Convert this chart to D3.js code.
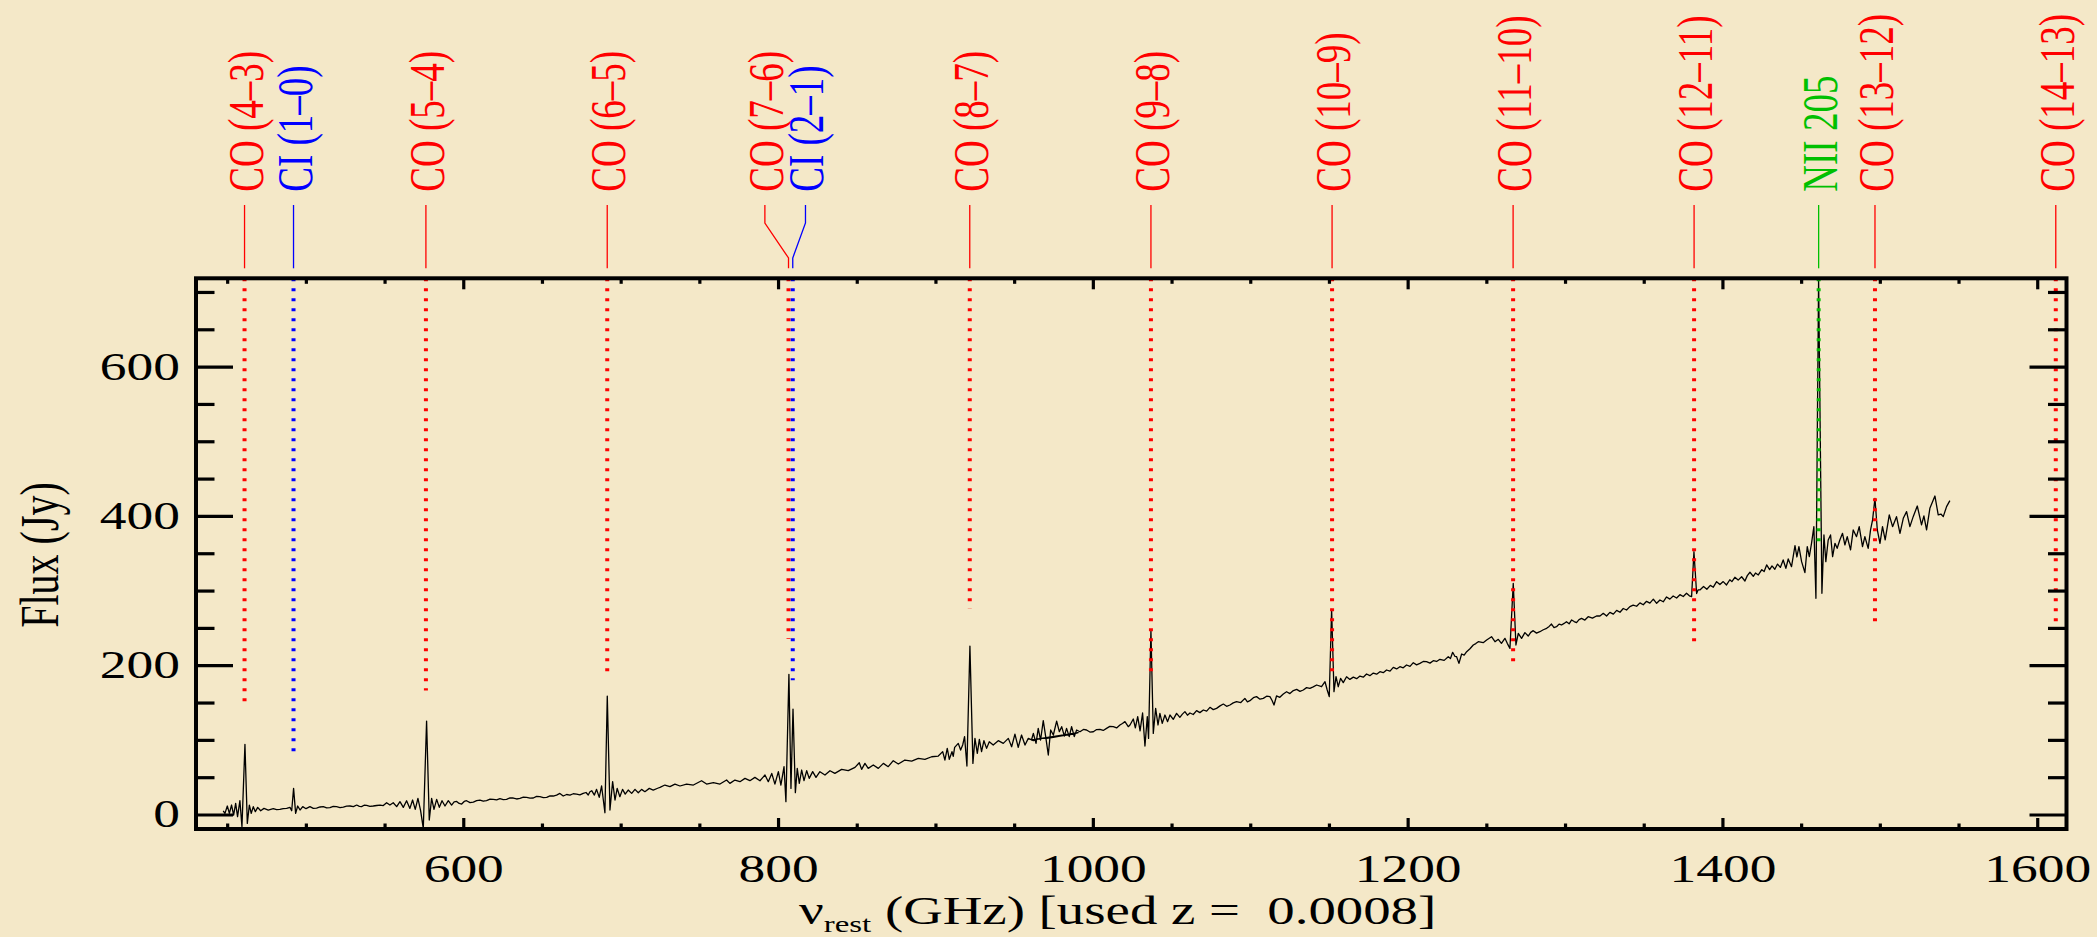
<!DOCTYPE html>
<html>
<head>
<meta charset="utf-8">
<script src="https://cdn.jsdelivr.net/npm/d3@7"></script>
<style>
  html, body { margin: 0; padding: 0; background: #f4e8c8; }
  svg { display: block; }
  text { font-family: "Liberation Serif", "Times New Roman", serif; }
</style>
</head>
<body>
<svg id="chart" width="2097" height="937"></svg>
<script>

// SLW detector array: rest frequency (GHz) and flux (Jy)
var slwFreq = [447.5,448.6,450.1,451.4,452.8,454.1,455.4,456.6,458.1,459.4,461.3,462.8,464.1,465.3,466.6,467.9,469.4,471.3,473.4,476.1,479.3,481.4,483.5,485.6,487.8,489.9,491.0,492.2,493.5,494.8,496.3,498.0,500.1,502.6,504.7,506.8,509.0,511.1,513.2,515.3,517.4,519.5,521.7,523.8,525.9,528.0,530.2,532.3,534.0,535.4,537.0,538.6,540.7,542.8,545.0,547.1,549.2,551.3,553.4,555.5,557.7,559.8,561.9,564.0,566.1,567.8,569.5,571.2,572.9,574.6,576.7,578.4,579.9,581.4,583.1,584.8,586.5,588.4,590.5,592.6,594.2,595.8,597.4,599.0,600.6,602.1,604.3,606.4,608.5,610.6,612.7,614.8,617.0,619.1,621.2,623.3,625.4,627.5,629.7,631.8,633.9,636.0,638.2,640.3,642.4,644.5,646.6,648.7,650.9,653.0,655.1,657.2,659.3,661.4,663.5,665.7,667.8,669.9,672.0,674.1,676.2,678.0,679.4,680.5,681.6,683.3,684.7,686.4,687.9,689.0,690.0,691.5,693.2,694.9,696.4,697.8,699.5,701.2,702.9,704.8,707.0,709.1,711.2,713.3,715.4,718.2,720.7,723.9,725.0,728.1,731.3,734.5,737.7,741.9,746.2,751.4,754.6,758.9,763.1,767.3,769.4,772.6,775.8,779.0,782.1,785.3,788.5,791.7,793.8,796.0,798.0,800.2,801.8,803.8,805.0,806.9,808.2,809.5,811.0,812.2,813.5,815.0,816.5,818.2,819.8,822.0,824.1,826.6,829.8,833.0,836.1,840.4,844.6,848.9,851.6,853.1,855.2,857.3,860.5,863.7,866.9,870.0,873.2,876.4,880.6,884.9,889.1,893.3,897.6,901.8,904.6,906.0,907.5,908.8,910.5,911.3,912.2,914.5,916.0,917.3,918.5,920.0,921.9,923.8,925.1,926.6,927.9,929.3,930.8,932.5,934.2,936.7,939.9,943.1,946.3,948.4,950.5,952.6,954.7,956.9,959.0,962.2,966.4,970.6,974.9,979.1,983.3,987.6,990.7];
var slwFlux = [5.0,1.5,11.4,1.5,12.7,-0.7,14.9,-2.9,18.5,-16.3,94.0,-11.9,12.7,1.5,10.5,3.8,9.6,5.1,8.2,6.0,7.8,6.5,6.9,8.0,8.2,9.6,5.1,35.0,1.5,11.4,6.0,10.5,7.8,10.5,8.3,8.7,10.1,10.5,9.0,9.1,10.8,10.5,9.3,10.0,11.2,11.4,10.6,12.7,11.0,10.5,12.4,12.3,11.0,11.4,12.1,12.7,12.0,15.8,12.7,15.8,10.5,17.2,9.6,18.5,8.2,19.4,6.9,21.6,5.1,-18.6,125.2,-7.4,21.6,6.9,20.3,9.6,18.5,11.4,18.5,12.7,17.0,17.6,14.8,14.0,17.5,18.5,16.0,16.7,18.6,19.4,17.8,18.5,20.5,20.3,19.6,21.2,20.0,20.3,22.3,22.1,20.8,21.6,23.2,23.0,21.9,22.1,24.2,23.9,22.6,23.0,25.0,24.8,26.0,28.3,24.8,26.8,26.1,27.8,27.4,26.2,28.3,29.5,26.1,30.5,31.9,26.1,33.7,23.0,38.2,19.4,2.4,158.7,6.0,44.0,19.4,35.0,23.9,33.7,27.4,32.8,28.3,33.7,29.2,33.7,30.6,35.0,32.8,35.5,36.4,39.5,37.3,40.8,38.2,40.8,39.5,45.3,40.8,42.6,40.8,46.2,41.7,46.2,44.0,48.4,45.3,49.8,45.3,52.9,44.0,55.1,40.8,57.4,39.5,64.1,17.2,187.8,35.0,141.3,29.2,61.8,41.7,59.6,45.3,58.7,48.4,57.4,49.8,57.4,52.9,58.7,55.1,60.5,58.7,63.2,69.4,60.5,68.5,61.8,66.3,61.8,68.5,64.1,72.1,67.6,73.0,71.6,75.2,73.9,77.4,78.3,84.2,73.0,88.6,73.9,84.2,78.0,90.0,95.3,86.4,93.1,104.3,65.0,225.7,68.5,102.0,81.9,100.7,84.2,98.9,88.6,97.5,93.1,98.9,95.3,102.0,90.8,107.8,90.0,106.5,93.1,102.0,98.9,102.0,102.0,103.4,105.1,106.5,107.8,109.6];

// SSW detector array: rest frequency (GHz) and flux (Jy)
var sswFreq = [961.0,962.2,963.9,965.3,966.8,968.5,970.2,971.7,973.2,974.9,977.0,978.7,980.2,981.9,983.3,985.0,986.5,988.2,989.7,991.8,994.0,996.0,998.1,1000.3,1002.4,1004.5,1006.6,1008.7,1010.8,1013.0,1015.1,1017.2,1018.8,1020.4,1022.5,1023.6,1025.7,1027.0,1028.5,1030.0,1031.6,1033.1,1034.6,1035.4,1036.9,1038.4,1039.9,1041.4,1042.6,1044.1,1045.8,1047.5,1049.0,1051.1,1053.2,1055.3,1056.9,1058.5,1060.1,1061.7,1063.8,1065.9,1068.0,1070.2,1072.3,1074.4,1076.5,1078.6,1080.8,1082.9,1085.0,1087.1,1089.2,1091.3,1094.0,1096.6,1098.2,1099.8,1102.0,1104.0,1106.2,1108.3,1110.4,1112.5,1113.8,1115.1,1116.7,1118.8,1121.0,1123.1,1125.2,1127.4,1129.5,1131.6,1133.7,1135.8,1137.9,1140.0,1142.2,1145.3,1147.5,1148.9,1150.2,1151.7,1153.2,1154.5,1155.9,1157.4,1159.1,1161.2,1163.3,1165.5,1167.6,1169.7,1171.8,1173.9,1176.0,1178.2,1180.3,1182.4,1184.5,1186.6,1188.8,1190.9,1193.0,1195.1,1197.2,1199.3,1201.5,1203.6,1205.7,1207.8,1209.9,1212.0,1214.2,1216.3,1218.4,1220.5,1223.2,1225.8,1227.2,1228.6,1230.0,1231.1,1232.6,1234.3,1235.9,1237.5,1239.6,1241.7,1243.3,1244.9,1248.0,1250.2,1253.3,1255.5,1257.6,1259.6,1261.8,1263.3,1265.0,1267.1,1268.8,1270.3,1272.4,1274.5,1276.6,1278.2,1279.8,1281.9,1284.0,1286.2,1288.3,1289.9,1291.4,1293.0,1294.6,1296.2,1297.8,1299.4,1300.9,1302.6,1304.2,1305.8,1307.3,1308.9,1310.5,1312.6,1314.7,1317.4,1320.0,1322.2,1324.3,1326.4,1328.5,1330.7,1332.8,1334.9,1337.0,1339.1,1341.2,1343.3,1345.5,1347.6,1349.7,1351.8,1353.9,1356.1,1358.2,1360.3,1362.4,1364.5,1366.6,1368.7,1370.9,1373.0,1375.1,1377.2,1379.0,1380.4,1381.9,1383.6,1384.6,1385.7,1388.0,1390.1,1392.3,1394.2,1396.3,1398.4,1400.5,1402.6,1404.7,1406.0,1407.9,1410.0,1412.2,1414.3,1415.8,1417.5,1419.6,1421.0,1422.8,1425.0,1426.5,1428.1,1430.0,1431.5,1433.3,1435.0,1436.8,1438.6,1440.3,1441.8,1443.9,1446.1,1447.3,1448.6,1450.3,1452.4,1453.9,1455.2,1456.6,1458.1,1459.4,1461.1,1463.2,1464.5,1465.7,1467.2,1468.7,1470.0,1471.5,1472.9,1474.6,1476.3,1477.8,1479.3,1481.4,1483.1,1485.2,1486.9,1489.0,1490.5,1492.6,1494.1,1495.4,1496.9,1498.4,1500.1,1501.7,1503.4,1506.0,1508.1,1510.6,1512.8,1514.9,1517.0,1519.1,1521.2,1523.8,1526.5,1528.0,1529.7,1531.8,1535.0,1537.1,1538.8,1540.3,1542.4,1544.5];
var sswFlux = [99.8,108.7,95.3,115.4,99.8,125.7,102.0,79.7,113.2,106.5,125.2,111.0,117.7,105.1,115.4,104.3,117.7,104.3,113.2,110.9,114.0,113.2,110.5,110.9,113.8,114.1,112.6,115.4,118.0,117.7,116.0,119.9,122.0,124.4,117.7,119.9,128.0,116.0,131.0,112.0,136.0,91.8,131.1,102.0,247.2,108.7,142.2,119.9,135.5,122.1,133.3,124.4,133.3,127.5,135.5,130.2,134.5,137.8,133.0,136.0,134.0,139.1,136.5,140.0,138.5,143.6,140.5,142.2,145.5,148.0,145.0,146.7,149.5,151.2,150.0,155.6,151.0,152.5,156.5,157.9,154.5,155.6,158.5,157.9,153.0,146.7,158.8,157.0,161.5,164.5,162.0,166.0,167.7,165.0,166.8,170.0,169.0,171.0,173.5,171.2,177.9,166.8,157.9,274.8,164.5,184.6,171.2,182.4,176.6,184.6,181.0,184.0,182.0,185.5,184.0,188.2,186.0,189.5,188.0,191.3,190.0,193.6,192.0,197.1,195.0,198.0,196.5,200.3,198.5,203.4,200.5,202.5,205.0,204.7,202.8,206.1,205.0,207.9,206.5,211.4,209.0,217.3,212.0,211.4,202.5,215.0,213.5,218.1,222.0,227.1,229.0,231.5,230.2,233.8,238.2,231.5,234.7,229.3,236.0,229.3,222.6,309.7,227.1,242.7,236.0,243.6,239.1,244.0,246.3,243.0,244.9,247.5,249.4,252.0,255.2,250.5,251.6,255.0,253.9,256.0,258.3,255.5,260.6,258.5,257.0,261.0,262.8,260.5,265.0,263.0,265.9,265.9,269.5,266.0,270.8,268.5,273.5,271.0,276.0,274.0,278.5,280.6,279.0,283.5,281.0,285.6,283.2,288.5,282.9,287.4,285.0,291.4,288.5,292.8,290.0,294.5,292.0,296.5,293.0,291.8,352.0,296.0,301.0,300.8,305.5,301.8,307.0,304.5,311.9,308.0,312.0,307.5,314.5,312.0,317.8,314.0,318.5,312.8,320.0,324.5,319.0,323.5,320.9,328.0,325.5,334.3,328.0,333.0,328.5,335.5,331.0,341.0,329.8,342.3,332.0,360.2,345.0,358.8,338.7,324.0,358.8,345.4,363.3,385.6,289.6,718.0,296.3,374.5,338.7,367.8,374.5,345.4,363.3,356.6,367.8,376.7,361.1,372.2,354.4,381.2,372.2,385.6,358.8,372.2,356.6,381.2,394.6,423.6,381.2,363.3,385.6,367.8,401.3,385.6,399.0,376.7,396.8,405.7,385.6,399.0,413.3,387.9,400.0,381.2,410.2,426.7,401.3,402.5,399.0,412.4,420.5];

// line identifications
var lineNames = ["CO (4\u20133)", "CI (1\u20130)", "CO (5\u20134)", "CO (6\u20135)", "CO (7\u20136)", "CI (2\u20131)", "CO (8\u20137)", "CO (9\u20138)", "CO (10\u20139)", "CO (11\u201310)", "CO (12\u201311)", "NII 205", "CO (13\u201312)", "CO (14\u201313)"];
var lineSpecies = ["CO", "CI", "CO", "CO", "CO", "CI", "CO", "CO", "CO", "CO", "CO", "NII", "CO", "CO"];
var lineFreqs = [461.04, 492.16, 576.27, 691.47, 806.65, 809.34, 921.80, 1036.91, 1151.99, 1267.01, 1381.99, 1461.13, 1496.92, 1611.79];
// lower end (Jy) of each dotted marker
var lineMarkEnd = [151, 80, 166, 188, 235, 180, 276, 186, 189, 204, 225, 359, 250, 258];

// axis ticks
var xMajor = [600, 800, 1000, 1200, 1400, 1600];
var xMinor = [450, 500, 550, 650, 700, 750, 850, 900, 950, 1050, 1100, 1150, 1250, 1300, 1350, 1450, 1500, 1550];
var yMajor = [0, 200, 400, 600];
var yMinor = [50, 100, 150, 250, 300, 350, 450, 500, 550, 650, 700];

var speciesColor = {CO: "#ff0000", CI: "#0000ff", NII: "#00c000"};

// plot box, IDL style
var box = {left: 196, right: 2066.5, top: 278.3, bottom: 829};
var stretch = 1.37;   // text is wider than the font's natural shape

var x = d3.scaleLinear().domain([430.2, 1618.6]).range([box.left, box.right]);
var y = d3.scaleLinear().domain([-19.4, 718.3]).range([box.bottom, box.top]);

var svg = d3.select("#chart");

svg.append("rect")
  .attr("width", 2097).attr("height", 937)
  .attr("fill", "#f4e8c8");

svg.append("clipPath").attr("id", "plotclip")
  .append("rect")
  .attr("x", box.left).attr("y", box.top)
  .attr("width", box.right - box.left).attr("height", box.bottom - box.top);

// spectrum: SLW then SSW, drawn as one trace
var spec = d3.zip(slwFreq, slwFlux).concat(d3.zip(sswFreq, sswFlux));

var line = d3.line()
  .x(function(d) { return x(d[0]); })
  .y(function(d) { return y(d[1]); });

svg.append("path")
  .datum(spec)
  .attr("d", line)
  .attr("clip-path", "url(#plotclip)")
  .attr("fill", "none")
  .attr("stroke", "#000")
  .attr("stroke-width", 1.3)
  .attr("stroke-linejoin", "round");

// dotted markers inside the plot
lineFreqs.forEach(function(f, i) {
  svg.append("path")
    .datum([[f, y.domain()[1]], [f, lineMarkEnd[i]]])
    .attr("d", line)
    .attr("fill", "none")
    .attr("stroke", speciesColor[lineSpecies[i]])
    .attr("stroke-width", 4)
    .attr("stroke-dasharray", "3 7");
});

// label positions, spread labels that would collide
var labelX = lineFreqs.map(function(f) { return x(f); });
for (var i = 1; i < labelX.length; i++) {
  var gap = labelX[i] - labelX[i - 1];
  if (gap < 40) {
    var need = 40.6 - gap;
    labelX[i - 1] -= need * 0.65;
    labelX[i] += need * 0.35;
  }
}

lineFreqs.forEach(function(f, i) {
  var col = speciesColor[lineSpecies[i]];
  var lx = labelX[i], px = x(f);
  var pts = Math.abs(lx - px) > 0.5
    ? [[lx, 205], [lx, 223], [px, 258], [px, 268.3]]
    : [[px, 205], [px, 268.3]];

  svg.append("path")
    .attr("d", d3.line()(pts))
    .attr("fill", "none")
    .attr("stroke", col)
    .attr("stroke-width", 1.3);

  svg.append("text")
    .attr("transform", "translate(" + (lx + 18) + ",191.7) scale(" + stretch + ",1) rotate(-90)")
    .attr("font-size", 37)
    .attr("fill", col)
    .text(lineNames[i]);
});

// axes: major and minor ticks on all four sides
function styleAxis(g, width) {
  g.select(".domain").remove();
  g.selectAll(".tick line").attr("stroke", "#000").attr("stroke-width", width);
}

var bottom = svg.append("g").attr("transform", "translate(0," + box.bottom + ")")
  .call(d3.axisBottom(x).tickValues(xMajor).tickSize(-11).tickFormat(d3.format("d")));
styleAxis(bottom, 3.2);
bottom.selectAll(".tick text")
  .attr("y", 53).attr("dy", 0)
  .attr("transform", "scale(" + stretch + ",1)")
  .attr("font-size", 39).attr("font-family", null).attr("fill", "#000");

svg.append("g").attr("transform", "translate(0," + box.bottom + ")")
  .call(d3.axisBottom(x).tickValues(xMinor).tickSize(-5.5).tickFormat(""))
  .call(styleAxis, 3.2);
svg.append("g").attr("transform", "translate(0," + box.top + ")")
  .call(d3.axisTop(x).tickValues(xMajor).tickSize(-11).tickFormat(""))
  .call(styleAxis, 3.2);
svg.append("g").attr("transform", "translate(0," + box.top + ")")
  .call(d3.axisTop(x).tickValues(xMinor).tickSize(-5.5).tickFormat(""))
  .call(styleAxis, 3.2);

var left = svg.append("g").attr("transform", "translate(" + box.left + ",0)")
  .call(d3.axisLeft(y).tickValues(yMajor).tickSize(-37).tickFormat(d3.format("d")));
styleAxis(left, 3.2);
left.selectAll(".tick text")
  .attr("x", -16 / stretch)
  .attr("transform", "scale(" + stretch + ",1)")
  .attr("font-size", 39).attr("font-family", null).attr("fill", "#000");

svg.append("g").attr("transform", "translate(" + box.left + ",0)")
  .call(d3.axisLeft(y).tickValues(yMinor).tickSize(-18.5).tickFormat(""))
  .call(styleAxis, 3.2);
svg.append("g").attr("transform", "translate(" + box.right + ",0)")
  .call(d3.axisRight(y).tickValues(yMajor).tickSize(-37).tickFormat(""))
  .call(styleAxis, 3.2);
svg.append("g").attr("transform", "translate(" + box.right + ",0)")
  .call(d3.axisRight(y).tickValues(yMinor).tickSize(-18.5).tickFormat(""))
  .call(styleAxis, 3.2);

// frame
svg.append("rect")
  .attr("x", box.left).attr("y", box.top)
  .attr("width", box.right - box.left).attr("height", box.bottom - box.top)
  .attr("fill", "none")
  .attr("stroke", "#000")
  .attr("stroke-width", 4);

// axis titles
svg.append("text")
  .attr("transform", "translate(58,555) scale(" + stretch + ",1) rotate(-90)")
  .attr("text-anchor", "middle")
  .attr("font-size", 40)
  .text("Flux (Jy)");

var xt = svg.append("text")
  .attr("transform", "translate(799,924) scale(" + stretch + ",1)")
  .attr("font-size", 40)
  .style("white-space", "pre");
xt.append("tspan").text("\u03bd");
xt.append("tspan").attr("font-size", 24).attr("dy", 8).text("rest");
xt.append("tspan").attr("dy", -8).text(" (GHz) [used z =  0.0008]");

</script>
</body>
</html>
